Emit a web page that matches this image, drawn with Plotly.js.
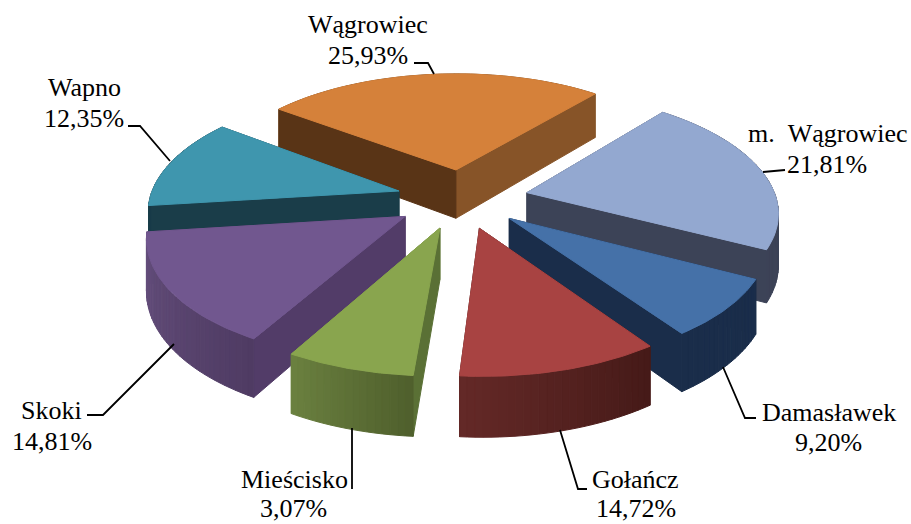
<!DOCTYPE html>
<html><head><meta charset="utf-8">
<script src="https://cdn.plot.ly/plotly-3.0.1.min.js"></script>
<style>html,body{margin:0;padding:0;background:#fff}#c{width:911px;height:524px}</style>
</head><body><div id="c"></div>
<script>
const names = ["Wągrowiec","m.\u00a0\u00a0Wągrowiec","Damasławek","Gołańcz","Mieścisko","Skoki","Wapno"];
const printedShares = ["25,93%","21,81%","9,20%","14,72%","3,07%","14,81%","12,35%"];
// Size of each wedge as drawn in the picture (percent of the circle)
const drawnShares = [25.75,21.6,7.7,10.9,6.95,14.85,12.25];

const topColors  = ["#D5813A","#93A8D0","#4571A8","#A84342","#89A54E","#71578F","#3F96AE"];
const startEdge  = ["#593416","#3C4357","#1A2D4A","#4A1C1A","#5A7035","#523C68","#1A3D49"];
const endEdge    = ["#875428","#3C4357","#1A2D4A","#4A1C1A","#728A43","#523C68","#1A3D49"];
const arcStart   = ["#875428","#3C4357","#1A2D4A","#451A18","#4F5F2C","#4F3B63","#1A3D49"];
const arcEnd     = ["#875428","#3C4357","#1A2D4A","#642927","#6B8140","#67517F","#1A3D49"];
const nudgeX     = [3,11,5,4,-2,-5,-5];
const nudgeY     = [4,0,-4,-6,-6,-6,0];
const drawOrder  = [0,1,6,5,2,3,4];
const firstAngle = -53;

const cx=459.5, cy=198, k=0.471, t=0.000575, R=249, pull=58, depth=50;
const rad=d=>d*Math.PI/180;
function proj(X,Y,low){const s=1/(1+t*Y);return [cx+s*X, cy-k*Y*s+(low?depth*s:0)];}
function hex(a,b,f){const p=c=>[1,3,5].map(i=>parseInt(c.substr(i,2),16));const A=p(a),B=p(b);
  return "rgb("+A.map((v,i)=>Math.round(v+(B[i]-v)*f)).join(",")+")";}
function poly(pts,color){return {type:"scatter",mode:"lines",x:pts.map(p=>p[0]),y:pts.map(p=>p[1]),
  fill:"toself",fillcolor:color,line:{color:color,width:1},hoverinfo:"skip",showlegend:false};}

const total=drawnShares.reduce((a,b)=>a+b,0);
let ang=firstAngle; const ranges=drawnShares.map(v=>{const a=ang;ang+=v/total*360;return [a,ang];});

const traces=[];
drawOrder.forEach(i=>{
  const [a0,a1]=ranges[i], mid=(a0+a1)/2;
  const ox=pull*Math.sin(rad(mid))+nudgeX[i], oy=pull*Math.cos(rad(mid))+nudgeY[i];
  const pt=(a,low)=>proj(ox+R*Math.sin(rad(a)),oy+R*Math.cos(rad(a)),low);
  const apex=low=>proj(ox,oy,low);
  const n=Math.max(6,Math.round((a1-a0)/1.5)), strips=[];
  for(let j=0;j<n;j++){const b0=a0+(a1-a0)*j/n,b1=a0+(a1-a0)*(j+1)/n;
    strips.push({b0,b1,c:hex(arcStart[i],arcEnd[i],(j+.5)/n),d:Math.cos(rad((b0+b1)/2))});}
  strips.sort((p,q)=>q.d-p.d);
  const strip=s=>traces.push(poly([pt(s.b0,false),pt(s.b1,false),pt(s.b1,true),pt(s.b0,true),pt(s.b0,false)],s.c));
  // hidden back part of the rim, then radial walls, then the visible rim, then the top
  strips.filter(s=>s.d>0).forEach(strip);
  const walls=[[a0,startEdge[i]],[a1,endEdge[i]]].sort((p,q)=>Math.cos(rad(q[0]))-Math.cos(rad(p[0])));
  walls.forEach(w=>traces.push(poly([apex(false),pt(w[0],false),pt(w[0],true),apex(true),apex(false)],w[1])));
  strips.filter(s=>s.d<=0).forEach(strip);
  const topPts=[apex(false)];
  for(let j=0;j<=40;j++)topPts.push(pt(a0+(a1-a0)*j/40,false));
  topPts.push(apex(false));
  traces.push(poly(topPts,topColors[i]));
});

const labelFont={family:"'Liberation Serif','Times New Roman',serif",size:26,color:"#000"};
const nameCentre=[[368,24],[828,133],[829,412],[635,479],[294,479],[51,410],[84,87]];
const shareCentre=[[368,55],[827,164],[828,442],[636,508],[293,508],[52,441],[84,118]];
const one=(t,p)=>({xref:"x",yref:"y",x:p[0],y:p[1],text:t,showarrow:false,xanchor:"center",yanchor:"middle",font:labelFont});
const annotations=names.map((n,i)=>one(n,nameCentre[i])).concat(printedShares.map((s,i)=>one(s,shareCentre[i])));
const leaders=["M414 63 L428 63 L434 74","M763 172 L785 170","M723 367 L745 418 L756 418","M560 430 L578 489 L587 489",
  "M352 428 L352 489","M174 344 L103 415 L87 415","M128 126 L140 126 L170 161"];
const shapes=leaders.map(p=>({type:"path",xref:"x",yref:"y",path:p,line:{color:"#000",width:1.8}}));

Plotly.newPlot("c",traces,{width:911,height:524,margin:{l:0,r:0,t:0,b:0},showlegend:false,
  paper_bgcolor:"#fff",plot_bgcolor:"#fff",annotations,shapes,
  xaxis:{range:[0,911],visible:false,fixedrange:true},
  yaxis:{range:[524,0],visible:false,fixedrange:true}},{staticPlot:true,displayModeBar:false});
</script></body></html>
